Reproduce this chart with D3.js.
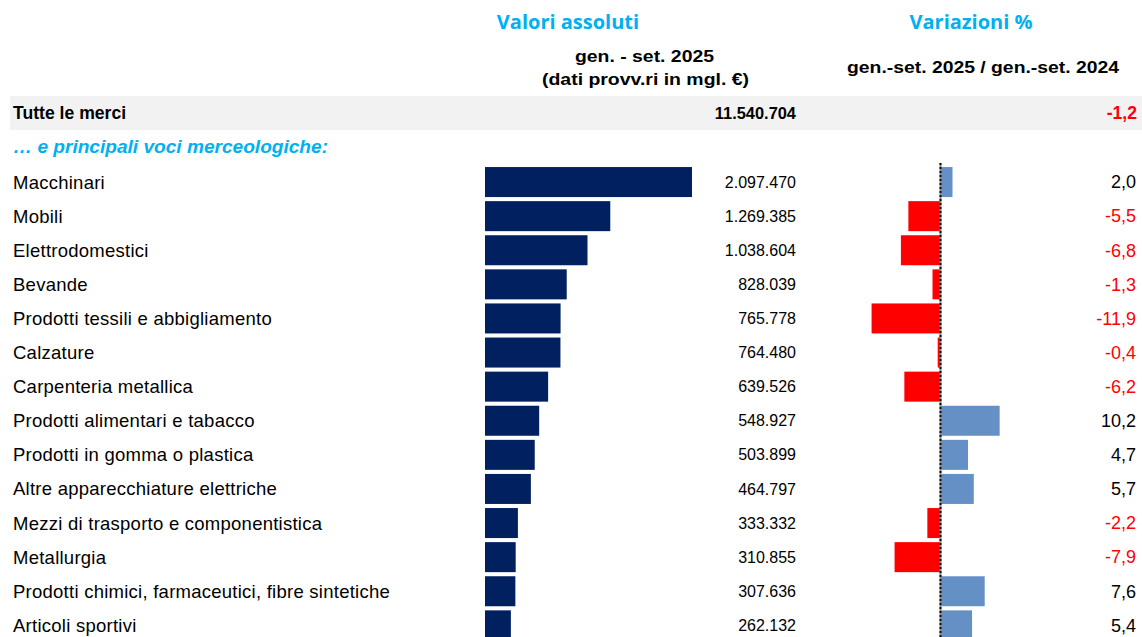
<!DOCTYPE html>
<html>
<head>
<meta charset="utf-8">
<script src="https://cdn.jsdelivr.net/npm/d3@7"></script>
<style>
  body { margin: 0; background: #fff; }
  text { font-family: "Liberation Sans", Arial, sans-serif; }
</style>
</head>
<body>
<script>
var w = 1142;
var h = 637;

// data
var categories = ["Macchinari", "Mobili", "Elettrodomestici", "Bevande",
  "Prodotti tessili e abbigliamento", "Calzature", "Carpenteria metallica",
  "Prodotti alimentari e tabacco", "Prodotti in gomma o plastica",
  "Altre apparecchiature elettriche", "Mezzi di trasporto e componentistica",
  "Metallurgia", "Prodotti chimici, farmaceutici, fibre sintetiche", "Articoli sportivi"];
var values = [2097470, 1269385, 1038604, 828039, 765778, 764480, 639526,
  548927, 503899, 464797, 333332, 310855, 307636, 262132];
var changes = [2.0, -5.5, -6.8, -1.3, -11.9, -0.4, -6.2, 10.2, 4.7, 5.7, -2.2, -7.9, 7.6, 5.4];
var totalValue = 11540704;
var totalChange = -1.2;

var navy = "#002060";
var lightBlue = "#6590c6";
var red = "#ff0000";
var cyan = "#00b0f0";

var fmtInt = function(v) { return d3.format(",")(v).replace(/,/g, "."); };
var fmtPct = function(v) { return d3.format(".1f")(v).replace(".", ",").replace("−", "-"); };

var svg = d3.select("body").append("svg").attr("width", w).attr("height", h);

var y = d3.scaleBand()
  .domain(categories)
  .range([165, 642.4])
  .paddingInner(0.12)
  .paddingOuter(0.06);

var xVal = d3.scaleLinear()
  .domain([0, 2097470])
  .range([485, 692]);

var xChg = d3.scaleLinear()
  .domain([-12, 12])
  .range([940 - 12 * 5.75, 940 + 12 * 5.75]);

// headers
svg.append("text").attr("x", 568).attr("y", 29)
  .attr("text-anchor", "middle")
  .style("font-family", "'Open Sans', sans-serif")
  .style("font-weight", "bold").style("font-size", "20px")
  .attr("fill", cyan).text("Valori assoluti");

svg.append("text").attr("x", 971).attr("y", 29)
  .attr("text-anchor", "middle")
  .style("font-family", "'Open Sans', sans-serif")
  .style("font-weight", "bold").style("font-size", "20px")
  .attr("fill", cyan).text("Variazioni %");

svg.append("text").attr("x", 575).attr("y", 62)
  .attr("textLength", 139).attr("lengthAdjust", "spacingAndGlyphs")
  .style("font-weight", "bold").style("font-size", "17px")
  .text("gen. - set. 2025");
svg.append("text").attr("x", 542).attr("y", 85)
  .attr("textLength", 207).attr("lengthAdjust", "spacingAndGlyphs")
  .style("font-weight", "bold").style("font-size", "17px")
  .text("(dati provv.ri in mgl. €)");
svg.append("text").attr("x", 847).attr("y", 73)
  .attr("textLength", 272).attr("lengthAdjust", "spacingAndGlyphs")
  .style("font-weight", "bold").style("font-size", "17px")
  .text("gen.-set. 2025 / gen.-set. 2024");

// total row
svg.append("rect").attr("x", 10).attr("y", 96).attr("width", w - 10).attr("height", 34)
  .attr("fill", "#f2f2f2");
svg.append("text").attr("x", 13).attr("y", 119)
  .style("font-weight", "bold").style("font-size", "17.6px").text("Tutte le merci");
svg.append("text").attr("x", 796).attr("y", 119).attr("text-anchor", "end")
  .style("font-weight", "bold").style("font-size", "16.4px").text(fmtInt(totalValue));
svg.append("text").attr("x", 1137).attr("y", 119).attr("text-anchor", "end")
  .style("font-weight", "bold").style("font-size", "17.6px")
  .attr("fill", totalChange < 0 ? red : "#000").text(fmtPct(totalChange));

svg.append("text").attr("x", 13).attr("y", 153)
  .attr("textLength", 315).attr("lengthAdjust", "spacingAndGlyphs")
  .style("font-weight", "bold").style("font-style", "italic").style("font-size", "18px")
  .attr("fill", cyan).text("… e principali voci merceologiche:");

var rows = svg.append("g").selectAll("g")
  .data(categories)
  .enter().append("g");

rows.append("text")
  .attr("x", 13)
  .attr("y", function(d) { return y(d) + y.bandwidth() / 2; })
  .attr("dy", "0.35em")
  .style("font-size", "18.5px")
  .style("letter-spacing", "0.25px")
  .text(function(d) { return d; });

rows.append("rect")
  .attr("x", xVal(0))
  .attr("y", function(d) { return y(d); })
  .attr("height", y.bandwidth())
  .attr("width", function(d, i) { return xVal(values[i]) - xVal(0); })
  .attr("fill", navy);

rows.append("text")
  .attr("x", 796)
  .attr("y", function(d) { return y(d) + y.bandwidth() / 2; })
  .attr("dy", "0.35em")
  .attr("text-anchor", "end")
  .style("font-size", "16px")
  .text(function(d, i) { return fmtInt(values[i]); });

rows.append("rect")
  .attr("x", function(d, i) { return changes[i] < 0 ? xChg(changes[i]) : xChg(0) + 1; })
  .attr("y", function(d) { return y(d); })
  .attr("height", y.bandwidth())
  .attr("width", function(d, i) { return Math.abs(xChg(changes[i]) - xChg(0)); })
  .attr("fill", function(d, i) { return changes[i] < 0 ? red : lightBlue; });

rows.append("text")
  .attr("x", 1136)
  .attr("y", function(d) { return y(d) + y.bandwidth() / 2; })
  .attr("dy", "0.35em")
  .attr("text-anchor", "end")
  .style("font-size", "18px")
  .attr("fill", function(d, i) { return changes[i] < 0 ? red : "#000"; })
  .text(function(d, i) { return fmtPct(changes[i]); });

// zero line, dashed
svg.append("line")
  .attr("x1", xChg(0) + 0.5).attr("x2", xChg(0) + 0.5)
  .attr("y1", 163).attr("y2", h)
  .attr("stroke", "#888").attr("stroke-width", 2);
svg.append("line")
  .attr("x1", xChg(0) + 0.5).attr("x2", xChg(0) + 0.5)
  .attr("y1", 163).attr("y2", h)
  .attr("stroke", "#111").attr("stroke-width", 2)
  .attr("stroke-dasharray", "2,2");
</script>
</body>
</html>
